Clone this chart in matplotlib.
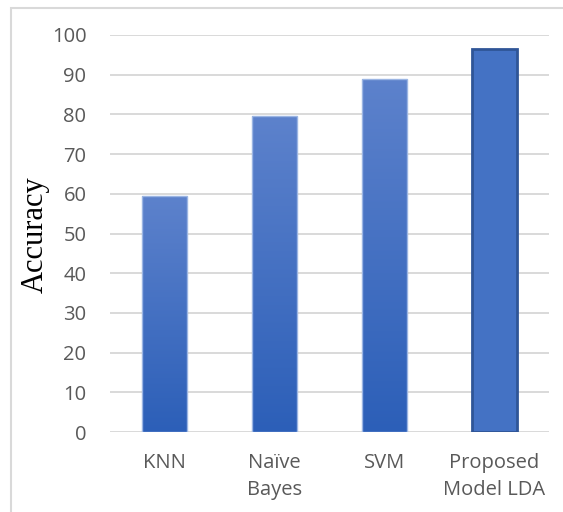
import numpy as np
import matplotlib.pyplot as plt
from matplotlib.colors import LinearSegmentedColormap
from matplotlib.patches import Rectangle

# values
models = ['KNN', 'Naïve\nBayes', 'SVM', 'Proposed\nModel LDA']
accuracy = [59.5, 79.7, 89.0, 96.5]
yticks = list(range(0, 101, 10))

fig = plt.figure(figsize=(5.63, 5.12), dpi=100)
ax = fig.add_axes([110/563, 1 - 432/512, 439/563, 397/512])

x = np.arange(len(models))
bars = ax.bar(x, accuracy, width=0.41, color='none', edgecolor='none', zorder=3)

# gradient fill for the first three bars, plain fill for the last one
grad = LinearSegmentedColormap.from_list('g', ['#2c5fb8', '#5d82cc'])
for i, b in enumerate(bars):
    x0, w, h = b.get_x(), b.get_width(), b.get_height()
    if i < len(bars) - 1:
        im = ax.imshow(np.linspace(0, 1, 256).reshape(-1, 1), cmap=grad,
                       origin='lower', aspect='auto',
                       extent=[x0, x0 + w, 0, h], zorder=3)
        im.set_clip_path(b)
        ax.add_patch(Rectangle((x0, 0), w, h, facecolor='none',
                               edgecolor='#9bb5e3', linewidth=1.0, zorder=4))
    else:
        ax.add_patch(Rectangle((x0, 0), w, h, facecolor='#4472c4',
                               edgecolor='#2f5597', linewidth=2.0, zorder=4))

ax.set_xlim(-0.5, len(models) - 0.5)
ax.set_ylim(0, 100)
ax.set_yticks(yticks)
ax.set_xticks(x)
ax.set_xticklabels(models, fontsize=14.5, family='Open Sans', color='#595959',
                   linespacing=1.45)
for lab in ax.get_yticklabels():
    lab.set_fontsize(14.5)
    lab.set_family('Open Sans')
    lab.set_color('#595959')
ax.tick_params(length=0, axis='y', pad=17)
ax.tick_params(length=0, axis='x', pad=15)
ax.grid(axis='y', color='#d9d9d9', linewidth=1.4, zorder=0)
ax.set_axisbelow(True)
for s in ax.spines.values():
    s.set_visible(False)

fig.text(35/563, 1 - 235/512, 'Accuracy', rotation=90, ha='center', va='center',
         fontsize=22, family='Liberation Serif')

# chart frame (only left and top edges are visible in the crop)
fig.patches.append(Rectangle((10.5/563, -0.1), 1.2, 1 - 7.5/512 + 0.1,
                             transform=fig.transFigure, facecolor='none',
                             edgecolor='#d9d9d9', linewidth=1.5))

fig.savefig('out.png', dpi=100)
